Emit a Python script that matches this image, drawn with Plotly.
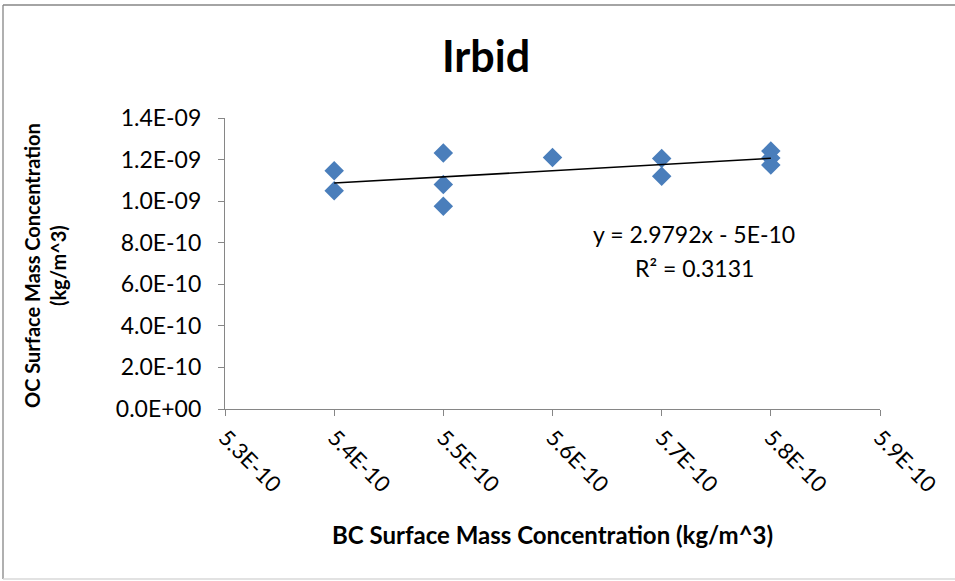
import numpy as np
import plotly.graph_objects as go

# BC vs OC surface mass concentration at Irbid (kg/m^3)
bc = [5.4e-10, 5.4e-10, 5.5e-10, 5.5e-10, 5.5e-10, 5.6e-10,
      5.7e-10, 5.7e-10, 5.8e-10, 5.8e-10, 5.8e-10]
oc = [1.146e-9, 1.050e-9, 1.232e-9, 1.080e-9, 0.976e-9, 1.210e-9,
      1.205e-9, 1.120e-9, 1.241e-9, 1.208e-9, 1.174e-9]

x_tickvals = [5.3e-10, 5.4e-10, 5.5e-10, 5.6e-10, 5.7e-10, 5.8e-10, 5.9e-10]
x_ticktext = ["5.3E-10", "5.4E-10", "5.5E-10", "5.6E-10", "5.7E-10", "5.8E-10", "5.9E-10"]
y_tickvals = [0, 2e-10, 4e-10, 6e-10, 8e-10, 1.0e-9, 1.2e-9, 1.4e-9]
y_ticktext = ["0.0E+00", "2.0E-10", "4.0E-10", "6.0E-10", "8.0E-10", "1.0E-09", "1.2E-09", "1.4E-09"]

equation_text = "y = 2.9792x - 5E-10"
r2_text = "R² = 0.3131"

# linear least-squares trend line across the observed BC range
slope, intercept = np.polyfit(bc, oc, 1)
trend_x = np.array([min(bc), max(bc)])
trend_y = slope * trend_x + intercept

FONT = "Lato"
GREY = "#868686"

fig = go.Figure()
fig.add_trace(go.Scatter(
    x=bc, y=oc, mode="markers",
    marker=dict(symbol="diamond", size=15, color="#4A7EBB", line=dict(width=0)),
    showlegend=False, hoverinfo="x+y",
))
fig.add_trace(go.Scatter(
    x=trend_x, y=trend_y, mode="lines",
    line=dict(color="black", width=1.6),
    showlegend=False, hoverinfo="skip",
))

W, H = 955, 581
L, R, T, B = 225, 75, 118, 172
pw, ph = W - L - R, H - T - B


def px_x(px):
    return (px - L) / pw


def px_y(py):
    return (H - B - py) / ph


def frame_line(x0, y0, x1, y1, color):
    return dict(type="line", xref="paper", yref="paper",
                x0=px_x(x0), y0=px_y(y0), x1=px_x(x1), y1=px_y(y1),
                line=dict(color=color, width=1.3), layer="below")


# chart-area frame: top, left and a faint bottom edge
frame = [
    frame_line(3, 5, W, 5, GREY),
    frame_line(3, 5, 3, 579, GREY),
    frame_line(3, 579, W, 579, "#d9d9d9"),
]

fig.update_layout(
    width=W, height=H,
    margin=dict(l=L, r=R, t=T, b=B),
    paper_bgcolor="white", plot_bgcolor="white",
    font=dict(family=FONT, size=23, color="black"),
    title=dict(text="<b>Irbid</b>", x=486 / W, xref="container", xanchor="center",
               y=1 - 57 / H, yanchor="middle", yref="container",
               font=dict(family=FONT, size=43, color="black")),
    xaxis=dict(range=[5.3e-10, 5.9e-10], tickvals=x_tickvals, ticktext=x_ticktext,
               tickangle=45, showgrid=False, zeroline=False,
               showline=True, linecolor=GREY, linewidth=1.3,
               ticks="outside", ticklen=6, tickcolor=GREY, tickwidth=1.3,
               tickfont=dict(family=FONT, size=22, color="black")),
    yaxis=dict(range=[0, 1.4e-9], tickvals=y_tickvals, ticktext=y_ticktext,
               showgrid=False, zeroline=False,
               showline=True, linecolor=GREY, linewidth=1.3,
               ticks="outside", ticklen=6, tickcolor=GREY, tickwidth=1.3,
               ticklabelstandoff=12,
               tickfont=dict(family=FONT, size=23, color="black")),
    shapes=frame,
    annotations=[
        dict(text=equation_text, x=px_x(694), y=px_y(234), xref="paper", yref="paper",
             showarrow=False, xanchor="center", yanchor="middle",
             font=dict(family=FONT, size=23, color="black")),
        dict(text=r2_text, x=px_x(694), y=px_y(268), xref="paper", yref="paper",
             showarrow=False, xanchor="center", yanchor="middle",
             font=dict(family=FONT, size=23, color="black")),
        dict(text="<b>BC Surface Mass Concentration (kg/m^3)</b>",
             x=px_x(552), y=px_y(534), xref="paper", yref="paper",
             showarrow=False, xanchor="center", yanchor="middle",
             font=dict(family=FONT, size=24, color="black")),
        dict(text="<b>OC Surface Mass Concentration<br>(kg/m^3)</b>",
             x=px_x(45), y=px_y(266), xref="paper", yref="paper",
             showarrow=False, xanchor="center", yanchor="middle", textangle=-90,
             font=dict(family=FONT, size=20, color="black")),
    ],
)

fig.write_html("out.html")
